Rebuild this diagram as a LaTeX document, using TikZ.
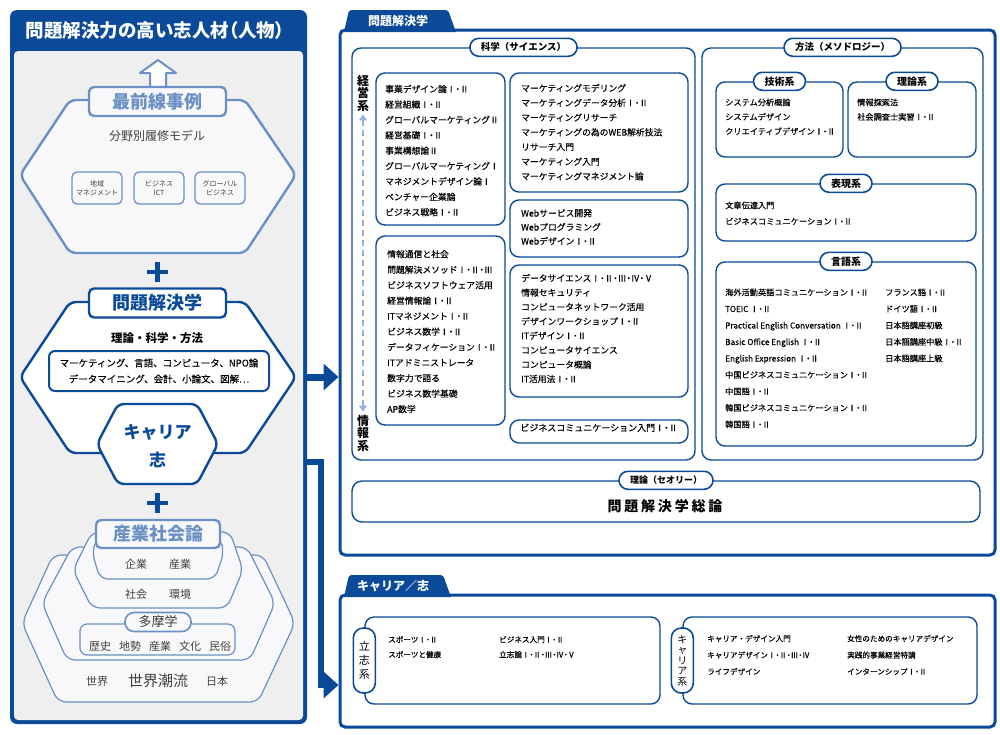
\documentclass[tikz,border=0pt]{standalone}
\usepackage{fontspec}
\setmainfont{Noto Sans CJK JP}
\usepackage{tikz}
\usetikzlibrary{arrows.meta,fit,calc}
\usetikzlibrary{positioning}
\definecolor{tamaBlue}{RGB}{10,74,152}
\definecolor{paleBlue}{RGB}{106,144,196}
\definecolor{dashBlue}{RGB}{150,178,220}
\definecolor{panelGray}{RGB}{239,239,239}
\definecolor{hexFill}{RGB}{248,248,250}
\definecolor{inkGray}{RGB}{64,64,64}
\newcommand{\fsz}[1]{\fontsize{#1}{#1}\selectfont}
\newcommand{\rn}[1]{{\addfontfeature{RawFeature=+palt}#1}}
\tikzstyle{panel} = [draw=tamaBlue,line width=3pt,rounded corners=5pt,fill=white,inner sep=0pt]
\tikzstyle{tabtext} = [text=white,font=\fsz{12}\bfseries,inner sep=0pt]
\tikzstyle{group} = [draw=tamaBlue,line width=1.4pt,rounded corners=9pt,fill=white,inner sep=0pt]
\tikzstyle{pill} = [draw=tamaBlue,line width=1.6pt,rounded corners=9pt,fill=white,minimum height=18pt,inner xsep=11pt,inner ysep=0pt,font=\fsz{9.5}\bfseries]
\tikzstyle{course} = [anchor=west,inner sep=0pt,text height=6.6pt,text depth=1.6pt,font=\fsz{8.8}\addfontfeature{FakeBold=0.3}]
\tikzstyle{small} = [course,font=\fsz{8.2}\addfontfeature{FakeBold=0.3}]
\tikzstyle{tiny} = [course,font=\fsz{7.6}\addfontfeature{FakeBold=0.3}]
\tikzstyle{hexlight} = [draw=paleBlue,line width=2.4pt,fill=hexFill,rounded corners=6pt]
\tikzstyle{hexdark} = [draw=tamaBlue,line width=2.4pt,fill=white,rounded corners=6pt]
\tikzstyle{ring} = [draw=paleBlue,line width=1.2pt,fill=hexFill,rounded corners=8pt]
\tikzstyle{caption} = [draw,line width=2.4pt,rounded corners=5pt,minimum width=137pt,minimum height=29pt,inner sep=0pt,font=\fsz{18}\bfseries]
\tikzstyle{model} = [draw=paleBlue,line width=1.3pt,rounded corners=5pt,minimum width=50pt,minimum height=32pt,inner sep=0pt,align=center,font=\fontsize{7}{9}\selectfont,text=inkGray]
\tikzstyle{word} = [text=inkGray,font=\fsz{11}]
\tikzstyle{axis} = [font=\fontsize{12}{12.5}\selectfont\bfseries,align=center,inner sep=0pt]
\tikzstyle{feed} = [draw=tamaBlue,line width=7pt,-{Triangle[width=26pt,length=15pt]}]
\tikzstyle{dashArrow} = [draw=dashBlue,line width=2.6pt,dash pattern=on 6pt off 4pt,{Triangle[width=8pt,length=6pt]}-{Triangle[width=8pt,length=6pt]},shorten >=3pt,shorten <=3pt]

\begin{document}
\begin{tikzpicture}[x=1pt,y=-1pt]
\useasboundingbox (0,0) rectangle (1000,734);

% left panel
\node[fill=tamaBlue,rounded corners=7pt,inner sep=0pt,fit={(10,10) (307,724)}] (person) {};
\fill[panelGray,rounded corners=4pt] (14,51) rectangle (303,720);
\node[text=white,font=\fsz{18.5}\bfseries] (personTitle) at (155,30) {問題解決力の高い志人材\rn{（人物）}};

\draw[draw=paleBlue,line width=2pt,fill=white,line join=round] (158,60) -- (176,73) -- (166,73) -- (166,87) -- (150,87) -- (150,73) -- (140,73) -- cycle;
\draw[hexlight] (20,175) -- (70,100) -- (245,100) -- (296,175) -- (245,253) -- (70,253) -- cycle;
\node[caption,draw=paleBlue,fill=hexFill,text=paleBlue] (frontline) at (157.5,101.5) {最前線事例};
\node[font=\fsz{12},text=inkGray] (models) at (157,136) {分野別履修モデル};
\node[model] (regional) at (97,188) {地域\\マネジメント};
\node[model] (ict) at (159,188) {ビジネス\\ICT};
\node[model] (global) at (220,188) {グローバル\\ビジネス};

\draw[tamaBlue,line width=4.5pt] (147,272) -- (168,272) (157.5,262) -- (157.5,282);

\draw[hexdark] (20,377) -- (70,302) -- (245,302) -- (296,377) -- (245,453) -- (70,453) -- cycle;
\node[caption,draw=tamaBlue,fill=white,text=tamaBlue] (solveCap) at (157.5,303) {問題解決学};
\node[font=\fsz{11.5}\bfseries] (pillars) at (157,338) {理論・科学・方法};
\node[draw=tamaBlue,line width=2pt,rounded corners=6pt,minimum width=220pt,minimum height=40pt,align=center,font=\fontsize{9.5}{16}\selectfont\addfontfeature{FakeBold=0.3},fill=white] (subjects) at (159,371) {マーケティング、言語、コンピュータ、NPO論\\データマイニング、会計、小論文、図解…};
\draw[hexdark] (97,444) -- (118,404) -- (197,404) -- (218,444) -- (197,484) -- (118,484) -- cycle;
\node[text=tamaBlue,font=\fontsize{17}{28}\selectfont\bfseries,align=center] (aspire) at (157.5,446) {キャリア\\志};

\draw[tamaBlue,line width=4.5pt] (147,503) -- (168,503) (157.5,493) -- (157.5,513);

\draw[ring] (53,555) -- (22,623) -- (58,702) -- (258,702) -- (295,623) -- (263,555) -- cycle;
\draw[ring] (72,547) -- (42,603) -- (67,660) -- (250,660) -- (275,603) -- (247,547) -- cycle;
\draw[ring] (92,532) -- (73,570) -- (92,608) -- (227,608) -- (243,570) -- (230,532) -- cycle;
\draw[ring] (97,538) -- (92,552) -- (100,579) -- (215,579) -- (224,552) -- (220,538) -- cycle;
\node[caption,draw=paleBlue,fill=hexFill,text=paleBlue,minimum width=124pt,minimum height=28pt] (society) at (158,534) {産業社会論};
\node[word] (firm) at (136,564) {企業};
\node[word] (industry) at (180,564) {産業};
\node[word] (social) at (136,594) {社会};
\node[word] (environ) at (180,594) {環境};
\draw[ring,rounded corners=7pt] (80,624) rectangle (235,655);
\node[draw=paleBlue,line width=1.6pt,fill=hexFill,rounded corners=9pt,minimum width=66pt,minimum height=19pt,inner sep=0pt,text=inkGray,font=\fsz{13}] (tamagaku) at (158,622) {多摩学};
\node[word] (history) at (100,646) {歴史};
\node[word] (terrain) at (130,646) {地勢};
\node[word] (industry2) at (160,646) {産業};
\node[word] (culture) at (190,646) {文化};
\node[word] (folk) at (220,646) {民俗};
\node[word] (world) at (97,681) {世界};
\node[word,font=\fsz{15}] (trend) at (158,681) {世界潮流};
\node[word] (japan) at (217,681) {日本};

% problem solving panel
\node[panel,fit={(340,30) (995,555)}] (solve) {};
\fill[tamaBlue] (344,32) [rounded corners=2pt] -- (349,10) -- (448,10) [sharp corners] -- (456,32) -- cycle;
\node[tabtext] (solveTab) at (398,21) {問題解決学};

\node[group,fit={(352,48) (695,460)}] (sci) {};
\node[pill] (sciTitle) at (sci.north) {科学（サイエンス）};
\node[axis] (mgmtAxis) at (363,93) {経\\営\\系};
\node[axis] (infoAxis) at (363,433) {情\\報\\系};
\draw[dashArrow] (mgmtAxis.south) -- (infoAxis.north);

\node[group,fit={(376,73) (505,225)}] (mgmtBox) {};
\foreach \t [count=\i] in {事業デザイン論\rn{Ⅰ・Ⅱ},経営組織\rn{Ⅰ・Ⅱ},グローバルマーケティングⅡ,経営基礎\rn{Ⅰ・Ⅱ},事業構想論Ⅱ,グローバルマーケティングⅠ,マネジメントデザイン論Ⅰ,ベンチャー企業論,ビジネス戦略\rn{Ⅰ・Ⅱ}}
  \node[course] (mgmt-\i) at (385,74.5+15.4*\i) {\t};
\node[group,fit={(376,236) (505,425)}] (infoBox) {};
\foreach \t [count=\i] in {情報通信と社会,問題解決メソッド\rn{Ⅰ・Ⅱ・Ⅲ},ビジネスソフトウェア活用,経営情報論\rn{Ⅰ・Ⅱ},ITマネジメント\rn{Ⅰ・Ⅱ},ビジネス数学\rn{Ⅰ・Ⅱ},データフィケーション\rn{Ⅰ・Ⅱ},ITアドミニストレータ,数字力で語る,ビジネス数学基礎,AP数学}
  \node[course] (info-\i) at (387,239.5+15.5*\i) {\t};
\node[group,fit={(510,73) (688,192)}] (mktBox) {};
\foreach \t [count=\i] in {マーケティングモデリング,マーケティングデータ分析\rn{Ⅰ・Ⅱ},マーケティングリサーチ,マーケティングの為のWEB解析技法,リサーチ入門,マーケティング入門,マーケティングマネジメント論}
  \node[course] (mkt-\i) at (521,74.3+14.7*\i) {\t};
\node[group,fit={(510,200) (688,257)}] (webBox) {};
\foreach \t [count=\i] in {Webサービス開発,Webプログラミング,Webデザイン\rn{Ⅰ・Ⅱ}}
  \node[course] (web-\i) at (521,200+14*\i) {\t};
\node[group,fit={(510,265) (688,397)}] (dsBox) {};
\foreach \t [count=\i] in {データサイエンス\rn{Ⅰ・Ⅱ・Ⅲ・Ⅳ・Ⅴ},情報セキュリティ,コンピュータネットワーク活用,デザインワークショップ\rn{Ⅰ・Ⅱ},ITデザイン\rn{Ⅰ・Ⅱ},コンピュータサイエンス,コンピュータ概論,IT活用法\rn{Ⅰ・Ⅱ}}
  \node[course] (ds-\i) at (521,264.6+14.4*\i) {\t};
\node[group,fit={(510,420) (688,443)},font=\fsz{9}\addfontfeature{FakeBold=0.3}] (bizBox) {ビジネスコミュニケーション入門\rn{Ⅰ・Ⅱ}};

\node[group,fit={(702,48) (983,460)}] (method) {};
\node[pill] (methodTitle) at (method.north) {方法（メソドロジー）};
\node[group,fit={(716,82) (843,157)}] (techBox) {};
\node[pill,font=\fsz{10}\bfseries] (techTitle) at (techBox.north) {技術系};
\foreach \t [count=\i] in {システム分析概論,システムデザイン,クリエイティブデザイン\rn{Ⅰ・Ⅱ}}
  \node[small] (tech-\i) at (725,88.5+14.5*\i) {\t};
\node[group,fit={(848,82) (976,157)}] (theoBox) {};
\node[pill,font=\fsz{10}\bfseries] (theoTitle) at (theoBox.north) {理論系};
\foreach \t [count=\i] in {情報探索法,社会調査士実習\rn{Ⅰ・Ⅱ}}
  \node[small] (theo-\i) at (857,88.5+14.5*\i) {\t};
\node[group,fit={(716,184) (976,241)}] (exprBox) {};
\node[pill,font=\fsz{10}\bfseries] (exprTitle) at (exprBox.north) {表現系};
\foreach \t [count=\i] in {文章伝達入門,ビジネスコミュニケーション\rn{Ⅰ・Ⅱ}}
  \node[small] (expr-\i) at (725,190+16*\i) {\t};
\node[group,fit={(716,262) (976,446)}] (langBox) {};
\node[pill,font=\fsz{10}\bfseries] (langTitle) at (langBox.north) {言語系};
\foreach \t [count=\i] in {海外活動英語コミュニケーション\rn{Ⅰ・Ⅱ},TOEIC \rn{Ⅰ・Ⅱ},Practical English Conversation \rn{Ⅰ・Ⅱ},Basic Office English \rn{Ⅰ・Ⅱ},English Expression \rn{Ⅰ・Ⅱ},中国ビジネスコミュニケーション\rn{Ⅰ・Ⅱ},中国語\rn{Ⅰ・Ⅱ},韓国ビジネスコミュニケーション\rn{Ⅰ・Ⅱ},韓国語\rn{Ⅰ・Ⅱ}}
  \node[small] (lang-\i) at (725,276.5+16.5*\i) {\t};
\foreach \t [count=\i] in {フランス語\rn{Ⅰ・Ⅱ},ドイツ語\rn{Ⅰ・Ⅱ},日本語講座初級,日本語講座中級\rn{Ⅰ・Ⅱ},日本語講座上級}
  \node[small] (foreign-\i) at (885,276.5+16.5*\i) {\t};

\node[group,fit={(352,481) (980,522)},rounded corners=10pt] (theory) {};
\node[pill,font=\fsz{9}\bfseries] (theoryTitle) at (theory.north) {理論（セオリー）};
\node[font=\fsz{14}\bfseries\addfontfeature{LetterSpace=20}] (overview) at (665,506) {問題解決学総論};

% career panel
\node[panel,fit={(340,595) (995,727)}] (career) {};
\fill[tamaBlue] (344,597) [rounded corners=2pt] -- (349,575) -- (443,575) [sharp corners] -- (451,597) -- cycle;
\node[tabtext] (careerTab) at (393,586) {キャリア／志};

\node[group,fit={(365,617) (660,704)}] (risshiBox) {};
\node[pill,minimum width=22pt,minimum height=65pt,inner sep=0pt,rounded corners=10pt,align=center,font=\fontsize{11}{14}\selectfont] (risshiTitle) at (risshiBox.west) {立\\志\\系};
\foreach \t [count=\i] in {スポーツ\rn{Ⅰ・Ⅱ},スポーツと健康}
  \node[tiny] (sport-\i) at (388,625+15*\i) {\t};
\foreach \t [count=\i] in {ビジネス入門\rn{Ⅰ・Ⅱ},立志論\rn{Ⅰ・Ⅱ・Ⅲ・Ⅳ・Ⅴ}}
  \node[tiny] (resolve-\i) at (499,625+15*\i) {\t};

\node[group,fit={(683,617) (977,704)}] (careerBox) {};
\node[pill,minimum width=22pt,minimum height=65pt,inner sep=0pt,rounded corners=10pt,align=center,font=\fontsize{10}{10.5}\selectfont] (careerTitle) at (careerBox.west) {キ\\ャ\\リ\\ア\\系};
\foreach \t [count=\i] in {キャリア・デザイン入門,キャリアデザイン\rn{Ⅰ・Ⅱ・Ⅲ・Ⅳ},ライフデザイン}
  \node[tiny] (design-\i) at (707,622.5+16.5*\i) {\t};
\foreach \t [count=\i] in {女性のためのキャリアデザイン,実践的事業経営特講,インターンシップ\rn{Ⅰ・Ⅱ}}
  \node[tiny] (practice-\i) at (847,622.5+16.5*\i) {\t};

% connectors
\coordinate (solveIn) at (0,377);
\draw[feed] (person.east |- solveIn) -- (solve.west |- solveIn);
\coordinate (careerOut) at (0,462);
\coordinate (careerBend) at (321,685);
\draw[feed,line width=6pt] (person.east |- careerOut) -| (careerBend) -- (career.west |- careerBend);
\end{tikzpicture}
\end{document}
